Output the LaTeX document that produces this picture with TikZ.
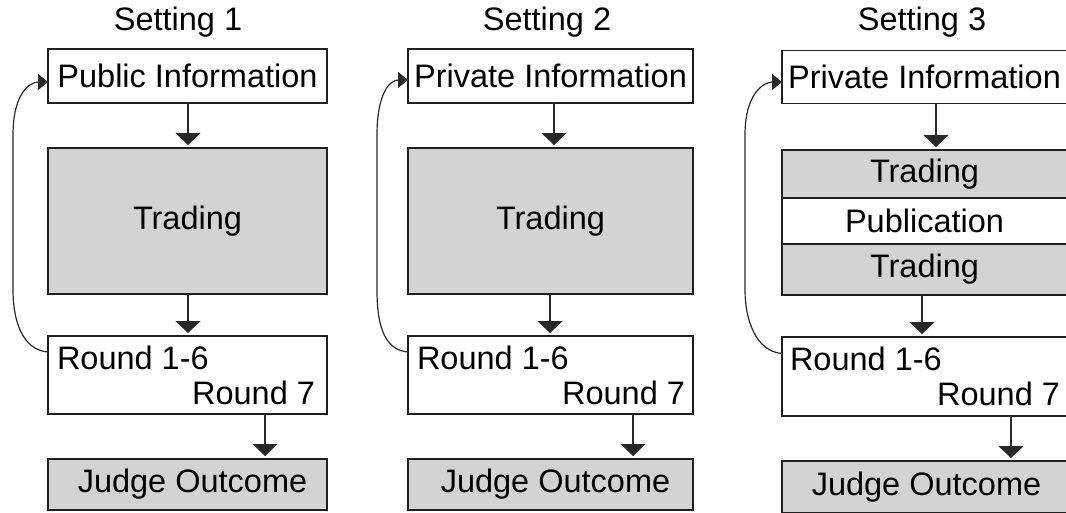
\documentclass[tikz,border=0pt]{standalone}
\usepackage{fontspec}
\setmainfont{Liberation Sans}
\usetikzlibrary{arrows.meta,positioning}
\definecolor{boxgray}{RGB}{211,211,211}
\definecolor{edge}{RGB}{30,30,30}
\definecolor{arrowc}{RGB}{40,40,40}
\begin{document}
\begin{tikzpicture}[x=1pt,y=-1pt,
  every node/.style={inner sep=0pt,outer sep=0pt,font=\fontsize{32.5}{38}\selectfont},
  boxw/.style={draw=edge,line width=1.6pt,fill=white,rectangle},
  boxg/.style={draw=edge,line width=1.6pt,fill=boxgray,rectangle},
  arr/.style={draw=arrowc,line width=1.6pt,-{Triangle[width=25pt,length=12pt]},shorten >=3pt},
  fb/.style={draw=arrowc,line width=1.2pt,-{Triangle[width=16pt,length=10pt]}},
  title/.style={anchor=center}
]
\useasboundingbox (0,0) rectangle (1066,512);
\clip (0,0) rectangle (1066,512);

% ---------- titles ----------
\node[title] (t1) at (178,22) {Setting 1};
\node[title] (t2) at (547,22) {Setting 2};
\node[title] (t3) at (922,22) {Setting 3};

% ---------- column 1 ----------
\node[boxw,minimum width=279pt,minimum height=54pt] (info1) at (187.5,76) {Public Information};
\node[boxg,minimum width=279pt,minimum height=146pt] (trade1) at (187.5,221) {Trading};
\node[boxw,minimum width=279pt,minimum height=78pt] (round1) at (187.5,375) {};
\node[anchor=west] (r1a) at (57,358) {Round 1-6};
\node[anchor=east] (r1b) at (315,393) {Round 7};
\node[boxg,minimum width=279pt,minimum height=51pt] (judge1) at (187.5,484.5) {\hspace*{10pt}Judge Outcome};

\coordinate (c1a) at (188,0);
\coordinate (c1b) at (188,0);
\coordinate (c1c) at (265,0);
\draw[arr] (info1.south -| c1a) -- (trade1.north -| c1a);
\draw[arr] (trade1.south -| c1b) -- (round1.north -| c1b);
\draw[arr] (round1.south -| c1c) -- (judge1.north -| c1c);
\draw[fb] ([yshift=23pt]round1.west) .. controls +(-26,-2) and +(0,30) .. (13,290)
  -- (13,135) .. controls +(0,-42) and +(-18,0) .. ([yshift=-6pt]info1.west);

% ---------- column 2 ----------
\node[boxw,minimum width=285pt,minimum height=54pt] (info2) at (550.5,76) {Private Information};
\node[boxg,minimum width=285pt,minimum height=146pt] (trade2) at (550.5,221) {Trading};
\node[boxw,minimum width=285pt,minimum height=78pt] (round2) at (550.5,375) {};
\node[anchor=west] (r2a) at (417,358) {Round 1-6};
\node[anchor=east] (r2b) at (685,393) {Round 7};
\node[boxg,minimum width=285pt,minimum height=51pt] (judge2) at (550.5,484.5) {\hspace*{10pt}Judge Outcome};

\coordinate (c2a) at (554,0);
\coordinate (c2b) at (550,0);
\coordinate (c2c) at (633,0);
\draw[arr] (info2.south -| c2a) -- (trade2.north -| c2a);
\draw[arr] (trade2.south -| c2b) -- (round2.north -| c2b);
\draw[arr] (round2.south -| c2c) -- (judge2.north -| c2c);
\draw[fb] ([yshift=23pt]round2.west) .. controls +(-26,-2) and +(0,30) .. (377,290)
  -- (377,135) .. controls +(0,-42) and +(-18,0) .. ([yshift=-4pt]info2.west);

% ---------- column 3 ----------
\node[boxw,minimum width=285pt,minimum height=53pt] (info3) at (924.5,77) {Private Information};
\node[boxg,minimum width=285pt,minimum height=48pt] (trade3a) at (924.5,174) {Trading};
\node[boxw,minimum width=285pt,minimum height=46pt] (pub3) at (924.5,221) {Publication};
\node[boxg,minimum width=285pt,minimum height=51pt] (trade3b) at (924.5,269.5) {Trading};
\node[boxw,minimum width=285pt,minimum height=79pt] (round3) at (924.5,376.5) {};
\node[anchor=west] (r3a) at (790,359) {Round 1-6};
\node[anchor=east] (r3b) at (1060,394) {Round 7};
\node[boxg,minimum width=285pt,minimum height=52pt] (judge3) at (924.5,487) {\hspace*{4pt}Judge Outcome};

\coordinate (c3a) at (936,0);
\coordinate (c3b) at (922,0);
\coordinate (c3c) at (1011,0);
\draw[arr] (info3.south -| c3a) -- (trade3a.north -| c3a);
\draw[arr] (trade3b.south -| c3b) -- (round3.north -| c3b);
\draw[arr] (round3.south -| c3c) -- (judge3.north -| c3c);
\draw[fb] ([yshift=23pt]round3.west) .. controls +(-26,-2) and +(0,30) .. (745,290)
  -- (745,135) .. controls +(0,-42) and +(-18,0) .. ([yshift=-5pt]info3.west);
\end{tikzpicture}
\end{document}
